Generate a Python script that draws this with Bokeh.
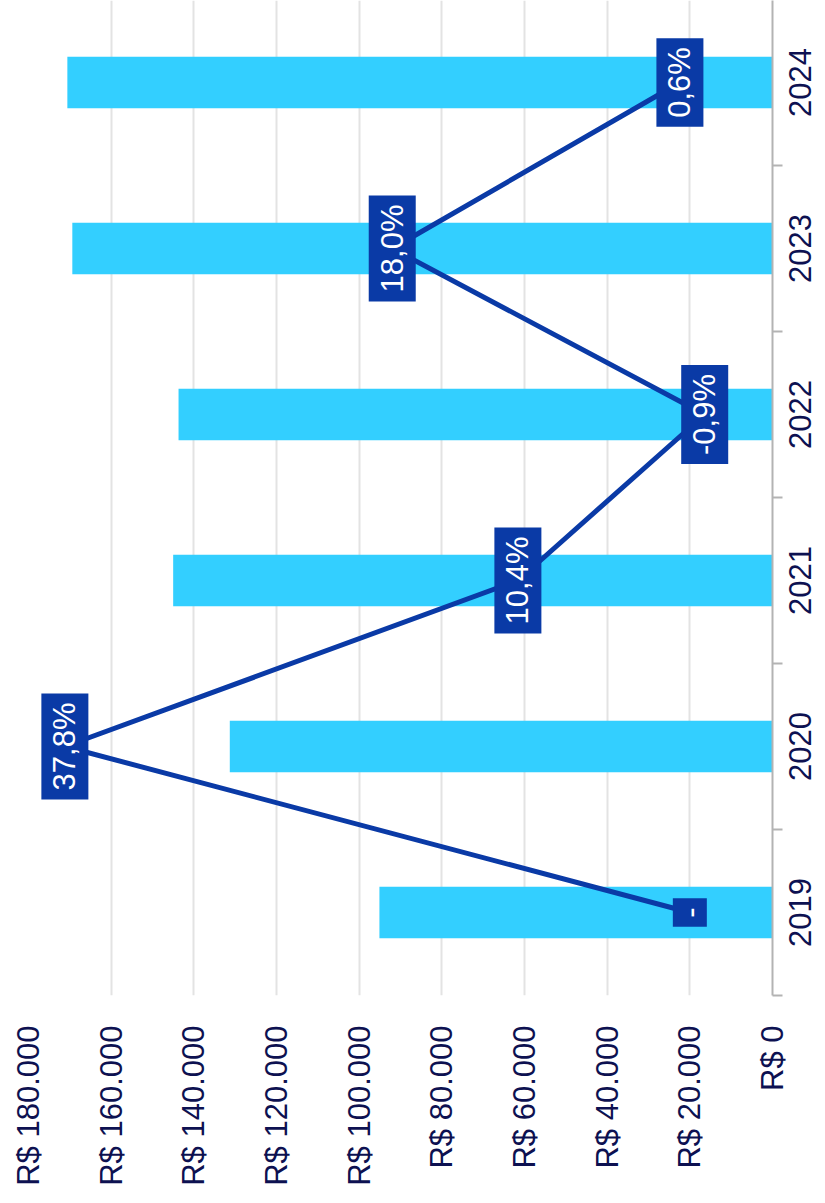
import math
from bokeh.plotting import figure
from bokeh.models import Range1d, FixedTicker, ColumnDataSource
from bokeh.core.properties import value
from bokeh.embed import file_html
from bokeh.resources import INLINE

# ---- data ----
years = ["2019", "2020", "2021", "2022", "2023", "2024"]
revenue = [95100, 131300, 145000, 143700, 169400, 170600]
growth = [0.0, 37.8, 10.4, -0.9, 18.0, 0.6]
growth_labels = ["-", "37,8%", "10,4%", "-0,9%", "18,0%", "0,6%"]
value_ticks = [0, 20000, 40000, 60000, 80000, 100000, 120000, 140000, 160000, 180000]
value_tick_labels = ["R$ 0", "R$ 20.000", "R$ 40.000", "R$ 60.000", "R$ 80.000",
                     "R$ 100.000", "R$ 120.000", "R$ 140.000", "R$ 160.000", "R$ 180.000"]

BAR = "#33CFFF"
LINE = "#0A3AA6"
NAVY = "#0D1151"
GRID = "#E3E3E3"
AXIS = "#B3B3B3"
FONT = "Liberation Sans"
FONT_PX = 31
FRAME_H = 995
Y_START = -0.5
Y_END = Y_START + FRAME_H / 166.0

idx = list(range(len(years)))
src = ColumnDataSource(dict(y=idx, rev=revenue, g=growth, lab=growth_labels))

p = figure(width=825, frame_height=FRAME_H,
           x_range=Range1d(180000, 0), y_range=Range1d(Y_START, Y_END),
           y_axis_location="right", output_backend="svg", toolbar_location=None,
           min_border_left=28, min_border_top=0, min_border_bottom=0, min_border_right=0)
p.outline_line_color = None
p.background_fill_color = "white"
p.extra_x_ranges = {"pct": Range1d(40, -5)}

# grid
p.xgrid.ticker = FixedTicker(ticks=value_ticks)
p.xgrid.grid_line_color = GRID
p.xgrid.grid_line_width = 2
p.ygrid.grid_line_color = None

# bottom value axis
xa = p.xaxis[0]
xa.ticker = FixedTicker(ticks=value_ticks)
xa.major_label_overrides = {t: l for t, l in zip(value_ticks, value_tick_labels)}
xa.axis_line_color = None
xa.major_tick_line_color = None
xa.minor_tick_line_color = None
xa.major_label_orientation = math.pi / 2
xa.major_label_standoff = 24
xa.major_label_text_font = FONT
xa.major_label_text_font_size = f"{FONT_PX}px"
xa.major_label_text_color = NAVY

# right category axis: rotated labels are anchored at their start,
# so shift the label ticks by half a label length to centre them on each year
px_per_unit = FRAME_H / (Y_END - Y_START)
half_label = 0.5 * 4 * 0.556 * FONT_PX / px_per_unit
label_ticks = [i - half_label for i in idx]
ya = p.yaxis[0]
ya.ticker = FixedTicker(ticks=label_ticks, minor_ticks=[i - 0.5 for i in range(len(years) + 1)])
ya.major_label_overrides = {t: y for t, y in zip(label_ticks, years)}
ya.major_tick_out = 0
ya.major_tick_in = 0
ya.minor_tick_out = 10
ya.minor_tick_in = 0
ya.minor_tick_line_color = AXIS
ya.minor_tick_line_width = 2
ya.axis_line_color = AXIS
ya.axis_line_width = 2
ya.major_label_orientation = math.pi / 2
ya.major_label_standoff = 18
ya.major_label_text_font = FONT
ya.major_label_text_font_size = f"{FONT_PX}px"
ya.major_label_text_color = NAVY

# bars
p.hbar(y="y", right="rev", left=0, height=0.31, source=src,
       fill_color=BAR, line_color=None)

# growth line
p.line(x="g", y="y", source=src, x_range_name="pct",
       line_color=LINE, line_width=5)

# labels
p.text(x="g", y="y", text="lab", source=src, x_range_name="pct",
       angle=math.pi / 2, text_align="center", text_baseline="middle",
       text_font=value(FONT), text_font_size=f"{FONT_PX}px", text_color="white",
       background_fill_color=LINE, padding=(9, 6))

open("out.html", "w").write(file_html(p, INLINE))
